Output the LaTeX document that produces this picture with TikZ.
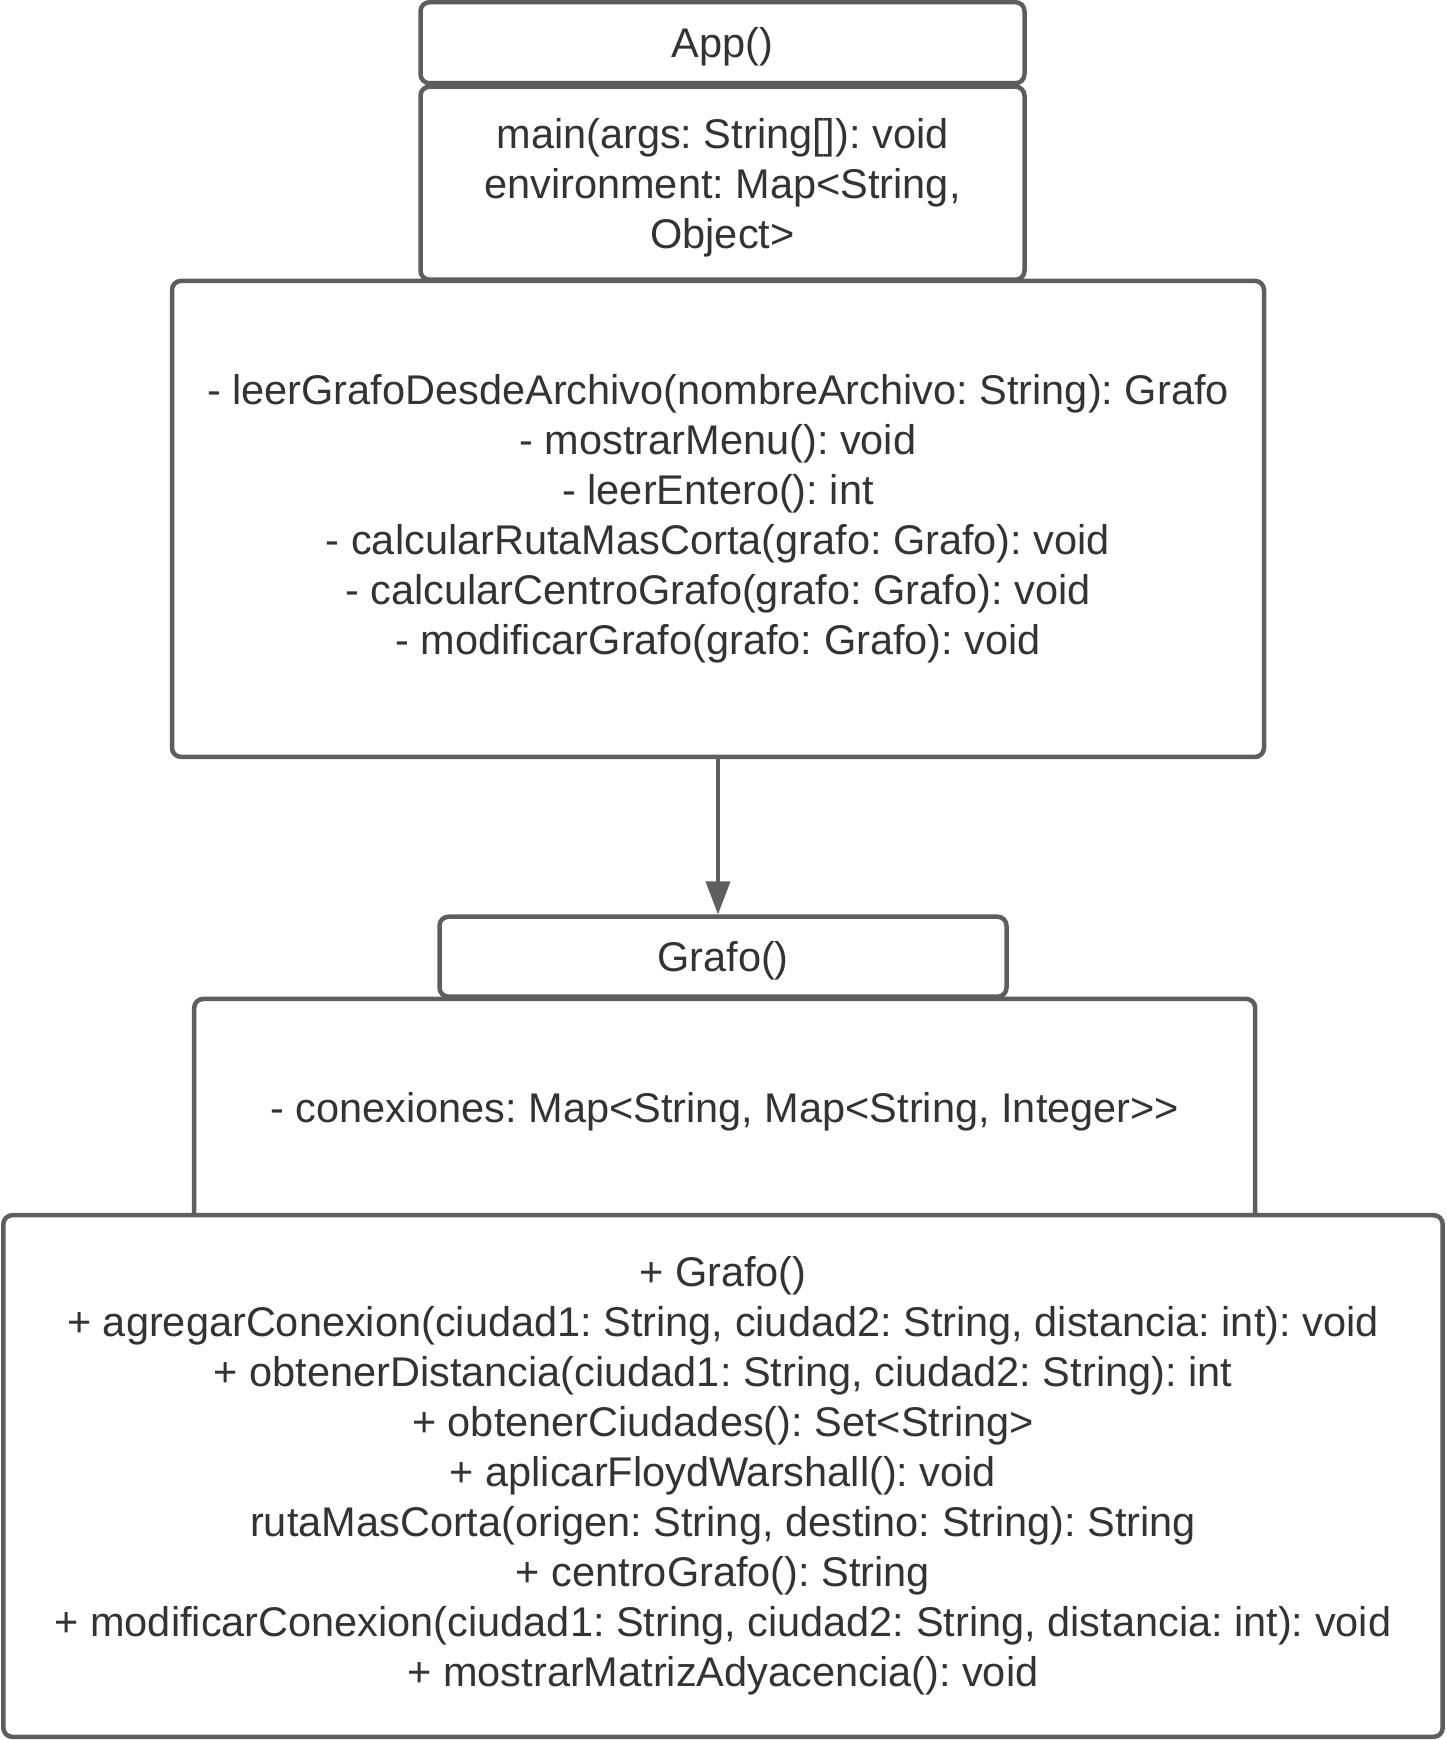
\documentclass[tikz,border=0pt]{standalone}
\usepackage{fontspec}
\setmainfont{Liberation Sans}
\usetikzlibrary{arrows.meta}
\definecolor{edgec}{HTML}{5E5E5E}
\definecolor{txtc}{HTML}{333333}
\frenchspacing
\begin{document}
\begin{tikzpicture}[x=1pt,y=-1pt,
  box/.style={draw=edgec, line width=4.5pt, rounded corners=9pt, fill=white, inner sep=0pt,
    align=center, text=txtc, font=\fontsize{41.5}{50}\selectfont},
  label text/.style={inner sep=0pt, align=center, text=txtc, font=\fontsize{41.5}{50}\selectfont},
  conn/.style={draw=edgec, line width=3.5pt, -{Triangle[length=33pt,width=24pt]}}
]
\useasboundingbox (0,0) rectangle (1446,1740);
\node[box, text depth=0pt, minimum width=604, minimum height=81] (app) at (722.5,42.7) {App()};
\node[box, text depth=0pt, minimum width=604, minimum height=193] (main) at (722.5,183.2)
  {main(args: String[]): void\\environment: Map<String,\\Object>};
\node[box, minimum width=1092, minimum height=476] (methods) at (718,518.9)
  {- leerGrafoDesdeArchivo(nombreArchivo: String): Grafo\\
   - mostrarMenu(): void\\
   - leerEntero(): int\\
   - calcularRutaMasCorta(grafo: Grafo): void\\
   - calcularCentroGrafo(grafo: Grafo): void\\
   - modificarGrafo(grafo: Grafo): void};
\node[box, text depth=0pt, minimum width=567, minimum height=80] (grafo) at (723,956.7) {Grafo()};
\node[box, minimum width=1061, minimum height=241] (conex) at (724.7,1119.4) {};
\node[label text] (conextext) at (724.7,1112) {- conexiones: Map<String, Map<String, Integer>{}>};
\node[box, minimum width=1439.4, minimum height=521.6] (ops) at (723,1476)
  {+ Grafo()\\
   + agregarConexion(ciudad1: String, ciudad2: String, distancia: int): void\\
   + obtenerDistancia(ciudad1: String, ciudad2: String): int\\
   + obtenerCiudades(): Set<String>\\
   + aplicarFloydWarshall(): void\\
   rutaMasCorta(origen: String, destino: String): String\\
   + centroGrafo(): String\\
   + modificarConexion(ciudad1: String, ciudad2: String, distancia: int): void\\
   + mostrarMatrizAdyacencia(): void};
\draw[conn] (methods.south) -- (methods.south |- grafo.north);
\end{tikzpicture}
\end{document}
